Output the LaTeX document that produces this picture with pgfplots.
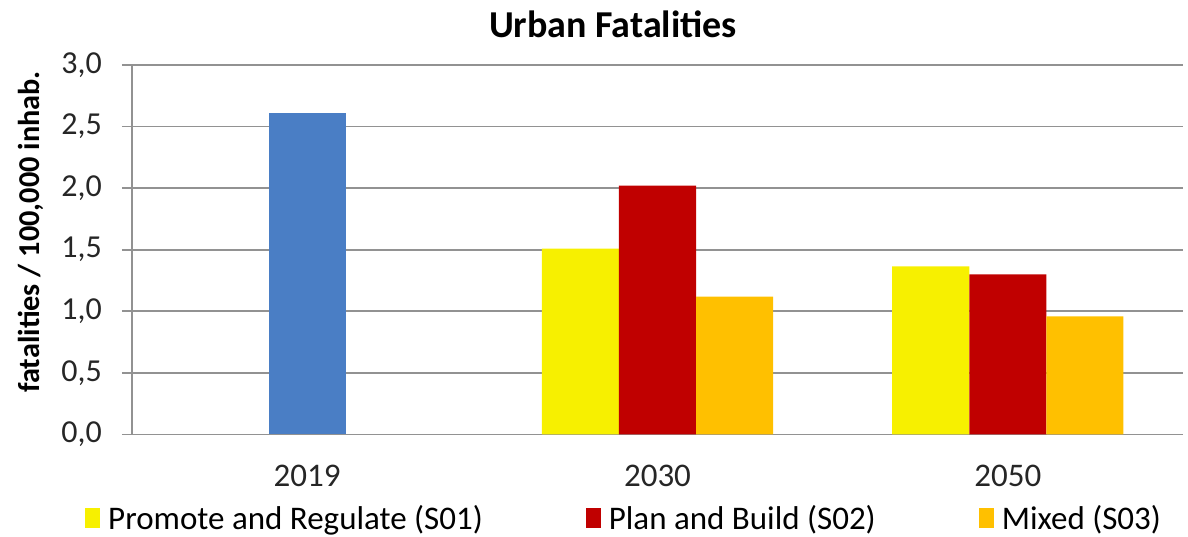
\documentclass[border=0pt]{standalone}
\usepackage{pgfplots}
\pgfplotsset{compat=1.18}
\usepackage{fontspec}
\setmainfont{Carlito}
\definecolor{cblue}{HTML}{4A7EC5}
\definecolor{cyel}{HTML}{F7F000}
\definecolor{cred}{HTML}{C00000}
\definecolor{corg}{HTML}{FFC000}
\definecolor{cgrid}{HTML}{929292}
\begin{document}
\begin{tikzpicture}
\path[use as bounding box] (-132pt,-102.5pt) rectangle (1056pt,434.5pt);
\begin{axis}[
  scale only axis,
  width=1051pt, height=369.5pt,
  xmin=-0.5, xmax=2.5, ymin=0, ymax=3,
  axis x line*=bottom, axis y line*=left,
  axis line style={cgrid, line width=1.8pt, -},
  xtick={0,1,2}, xticklabels={2019,2030,2050},
  major x tick style={draw=none},
  ytick={0,0.5,...,3},
  ymajorgrids, grid style={cgrid, line width=1.8pt},
  major y tick style={cgrid, line width=1.8pt},
  tick align=outside, major tick length=10pt,
  /pgf/number format/.cd, fixed, fixed zerofill, precision=1, use comma, assume math mode=true,
  /pgfplots/.cd,
  yticklabel style={font=\fontsize{32}{36}\selectfont, text=black!85, anchor=east, inner sep=0pt, xshift=-20pt},
  xticklabel style={font=\fontsize{33}{38}\selectfont, text=black!85, anchor=base, inner sep=0pt, yshift=-41.5pt},
  ylabel={\bfseries fatalities / 100,000 inhab.},
  ylabel style={font=\fontsize{30.3}{34}\selectfont, at={(axis description cs:-0.0961,0.548)}, anchor=center, rotate=0},
  title={\bfseries Urban Fatalities},
  title style={font=\fontsize{38}{44}\selectfont, at={(axis description cs:0.4577,1.094)}, anchor=center, inner sep=0pt},
  legend columns=3,
  legend cell align=left,
  legend style={draw=none, fill=none, at={(axis description cs:-0.0447,-0.226)}, anchor=west,
    inner sep=0pt, font=\fontsize{33}{38}\selectfont,
    nodes={inner sep=0pt},
    /tikz/every odd column/.append style={column sep=8pt},
    /tikz/every even column/.append style={column sep=103pt}},
  legend image code/.code={\fill[#1] (0pt,-10pt) rectangle (15pt,10pt);},
]
\addplot[ybar, bar width=0.22, bar shift=0pt, fill=cyel, draw=none] coordinates {(0.78,1.51) (1.78,1.365)};
\addlegendentry{Promote and Regulate (S01)}
\addplot[ybar, bar width=0.22, bar shift=0pt, fill=cred, draw=none] coordinates {(1,2.02) (2,1.30)};
\addlegendentry{Plan and Build (S02)}
\addplot[ybar, bar width=0.22, bar shift=0pt, fill=corg, draw=none] coordinates {(1.22,1.12) (2.22,0.96)};
\addlegendentry{Mixed (S03)}
\addplot[ybar, bar width=0.22, bar shift=0pt, fill=cblue, draw=none, forget plot] coordinates {(0,2.61)};
\end{axis}
\end{tikzpicture}
\end{document}
